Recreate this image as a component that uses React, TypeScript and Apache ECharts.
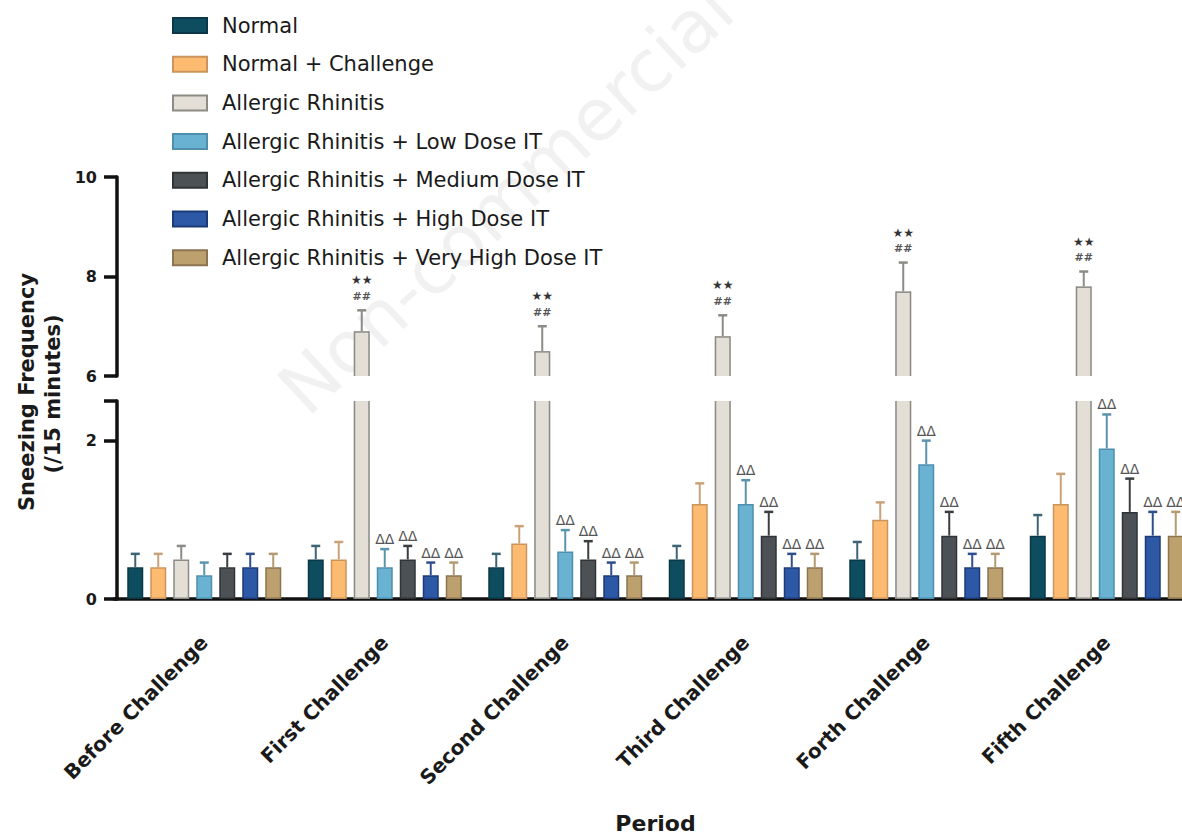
import React, { useEffect, useRef } from "react";
import * as echarts from "echarts";

const categories = [
  "Before Challenge",
  "First Challenge",
  "Second Challenge",
  "Third Challenge",
  "Forth Challenge",
  "Fifth Challenge",
];

const seriesNames = [
  "Normal",
  "Normal + Challenge",
  "Allergic Rhinitis",
  "Allergic Rhinitis + Low Dose IT",
  "Allergic Rhinitis + Medium Dose IT",
  "Allergic Rhinitis + High Dose IT",
  "Allergic Rhinitis + Very High Dose IT",
];

const normal = [0.4, 0.5, 0.4, 0.5, 0.5, 0.8];
const normalErr = [0.17, 0.17, 0.17, 0.17, 0.22, 0.26];
const normalChallenge = [0.4, 0.5, 0.7, 1.2, 1.0, 1.2];
const normalChallengeErr = [0.17, 0.22, 0.22, 0.26, 0.22, 0.38];
const allergic = [0.5, 6.9, 6.5, 6.8, 7.7, 7.8];
const allergicErr = [0.17, 0.42, 0.5, 0.42, 0.58, 0.3];
const lowDose = [0.3, 0.4, 0.6, 1.2, 1.7, 1.9];
const lowDoseErr = [0.16, 0.23, 0.27, 0.3, 0.3, 0.43];
const mediumDose = [0.4, 0.5, 0.5, 0.8, 0.8, 1.1];
const mediumDoseErr = [0.17, 0.17, 0.23, 0.3, 0.3, 0.42];
const highDose = [0.4, 0.3, 0.3, 0.4, 0.4, 0.8];
const highDoseErr = [0.17, 0.16, 0.16, 0.17, 0.17, 0.3];
const veryHighDose = [0.4, 0.3, 0.3, 0.4, 0.4, 0.8];
const veryHighDoseErr = [0.17, 0.16, 0.16, 0.17, 0.17, 0.3];

// significance marks
const starMarks = ["", "★★", "★★", "★★", "★★", "★★"];
const hashMarks = ["", "##", "##", "##", "##", "##"];
const deltaMarks = ["", "ΔΔ", "ΔΔ", "ΔΔ", "ΔΔ", "ΔΔ"];
const noMarks = ["", "", "", "", "", ""];

const values = [normal, normalChallenge, allergic, lowDose, mediumDose, highDose, veryHighDose];
const errors = [normalErr, normalChallengeErr, allergicErr, lowDoseErr, mediumDoseErr, highDoseErr, veryHighDoseErr];
const marks = [noMarks, noMarks, noMarks, deltaMarks, deltaMarks, deltaMarks, deltaMarks];

const lowerTicks = [0, 2, 2.5];
const lowerLabels = [0, 2];

const fills = ["#0e4d5f", "#fdbb72", "#e3dfd6", "#6ab2d2", "#4c5155", "#2c58a6", "#bca06e"];
const borders = ["#0a3846", "#c9955c", "#8d8b86", "#4e8fae", "#303437", "#1c3a78", "#8c7450"];
const errColors = ["#3e6474", "#c9a27a", "#8d8b86", "#5b93ad", "#3a3e41", "#2f4f8c", "#b39a70"];

const BAR_W = 16;
const BAR_GAP = 7;
const PITCH = BAR_W + BAR_GAP;
const BREAK_LOW = 2.5;
const BREAK_HIGH = 6;
const AR = 2;
const FONT = "DejaVu Sans";

export default function App() {
  const ref = useRef<HTMLDivElement>(null);

  useEffect(() => {
    if (!ref.current) return;
    const chart = echarts.init(ref.current, null, { renderer: "svg" });

    const makeErrRender = (si: number, isAR: boolean) =>
      (params: any, api: any) => {
        const cat = api.value(0);
        const v = api.value(1);
        const e = api.value(2);
        const base = api.coord([cat, v]);
        const top = api.coord([cat, v + e]);
        const x = base[0] + (si - 3) * PITCH;
        const col = errColors[si];
        const children: any[] = [
          { type: "line", shape: { x1: x, y1: base[1], x2: x, y2: top[1] }, style: { stroke: col, lineWidth: 2 } },
          { type: "line", shape: { x1: x - 4.5, y1: top[1], x2: x + 4.5, y2: top[1] }, style: { stroke: col, lineWidth: 2.5 } },
        ];
        if (isAR) {
          const hs = hashMarks[cat];
          const st = starMarks[cat];
          if (hs) children.push({ type: "text", style: { text: hs, x, y: top[1] - 14, align: "center", verticalAlign: "middle", fill: "#555", font: `bold 11px ${FONT}` } });
          if (st) children.push({ type: "text", style: { text: st, x, y: top[1] - 30, align: "center", verticalAlign: "middle", fill: "#333", font: `12px ${FONT}` } });
        } else {
          const m = marks[si][cat];
          if (m) children.push({ type: "text", style: { text: m, x, y: top[1] - 10, align: "center", verticalAlign: "middle", fill: "#555", font: `14px ${FONT}` } });
        }
        return { type: "group", children };
      };

    // open-ended outline for the broken Allergic Rhinitis bars
    const makeSideRender = (upper: boolean) => (params: any, api: any) => {
      const cat = api.value(0);
      const v = api.value(1);
      const lo = api.coord([cat, upper ? BREAK_HIGH : 0]);
      const hi = api.coord([cat, upper ? v : BREAK_LOW]);
      const cx = lo[0] + (AR - 3) * PITCH;
      const l = cx - BAR_W / 2 + 0.75;
      const r = cx + BAR_W / 2 - 0.75;
      const st = { stroke: borders[AR], lineWidth: 1.5 };
      const children: any[] = [
        { type: "line", shape: { x1: l, y1: lo[1], x2: l, y2: hi[1] }, style: st },
        { type: "line", shape: { x1: r, y1: lo[1], x2: r, y2: hi[1] }, style: st },
      ];
      if (upper) children.push({ type: "line", shape: { x1: l, y1: hi[1] + 0.75, x2: r, y2: hi[1] + 0.75 }, style: st });
      else children.push({ type: "line", shape: { x1: l, y1: lo[1] - 0.75, x2: r, y2: lo[1] - 0.75 }, style: st });
      return { type: "group", children };
    };

    const barGap = `${(BAR_GAP / BAR_W) * 100}%`;
    const series: any[] = [];
    // lower grid bars
    seriesNames.forEach((name, si) => {
      series.push({
        type: "bar",
        name,
        xAxisIndex: 0,
        yAxisIndex: 0,
        data: values[si].map((v) =>
          si === AR && v > BREAK_LOW ? { value: v, itemStyle: { borderWidth: 0 } } : v
        ),
        barWidth: BAR_W,
        barGap,
        itemStyle: { color: fills[si], borderColor: borders[si], borderWidth: 1.5 },
        clip: true,
        z: 2,
      });
    });
    // upper grid bars (only broken-axis values)
    seriesNames.forEach((name, si) => {
      series.push({
        type: "bar",
        name: si === AR ? name : `upper-${si}`,
        xAxisIndex: 1,
        yAxisIndex: 1,
        data: values[si].map((v) => (si === AR && v >= BREAK_HIGH ? v : null)),
        barWidth: BAR_W,
        barGap,
        itemStyle: { color: fills[si], borderWidth: 0 },
        clip: true,
        z: 2,
      });
    });
    const brokenAR = allergic.map((v, ci) => [ci, v]).filter((d) => d[1] >= BREAK_HIGH);
    series.push({ type: "custom", name: "ar-side-low", xAxisIndex: 0, yAxisIndex: 0, data: brokenAR, renderItem: makeSideRender(false), z: 3, silent: true });
    series.push({ type: "custom", name: "ar-side-up", xAxisIndex: 1, yAxisIndex: 1, data: brokenAR, renderItem: makeSideRender(true), z: 3, silent: true });

    // error bars
    seriesNames.forEach((name, si) => {
      const lowerData: any[] = [];
      const upperData: any[] = [];
      values[si].forEach((v, ci) => {
        if (v + errors[si][ci] <= BREAK_LOW) lowerData.push([ci, v, errors[si][ci]]);
        else if (v >= BREAK_HIGH) upperData.push([ci, v, errors[si][ci]]);
      });
      series.push({
        type: "custom",
        name: `err-low-${si}`,
        xAxisIndex: 0,
        yAxisIndex: 0,
        data: lowerData,
        renderItem: makeErrRender(si, false),
        z: 3,
        silent: true,
      });
      if (upperData.length) {
        series.push({
          type: "custom",
          name: `err-up-${si}`,
          xAxisIndex: 1,
          yAxisIndex: 1,
          data: upperData,
          renderItem: makeErrRender(si, true),
          z: 3,
          silent: true,
        });
      }
    });

    const axisLine = { show: true, lineStyle: { color: "#111", width: 3.5 } };
    const axisTick = { show: true, length: 13, lineStyle: { color: "#111", width: 3.5 } };
    const tickLabel = { color: "#1a1a1a", fontFamily: FONT, fontWeight: "bold" as const, fontSize: 16, margin: 20 };

    const option: any = {
      animation: false,
      backgroundColor: "#fff",
      legend: {
        data: seriesNames,
        orient: "vertical",
        left: 167,
        top: 10,
        itemWidth: 34,
        itemHeight: 15,
        itemGap: 17.7,
        icon: "rect",
        selectedMode: false,
        textStyle: { fontFamily: FONT, fontSize: 21, lineHeight: 21, color: "#1a1a1a", padding: [0, 0, 0, 10] },
      },
      graphic: [
        {
          type: "text",
          z: -10,
          silent: true,
          x: 506,
          y: 199,
          rotation: (43 * Math.PI) / 180,
          style: { text: "Non-commercial", font: `72px ${FONT}`, fill: "#f1f1f1", align: "center", verticalAlign: "middle" },
        },
        {
          type: "text",
          x: 27,
          y: 392,
          rotation: Math.PI / 2,
          style: { text: "Sneezing Frequency", font: `bold 21px ${FONT}`, fill: "#1a1a1a", align: "center", verticalAlign: "middle" },
        },
        {
          type: "text",
          x: 53,
          y: 394,
          rotation: Math.PI / 2,
          style: { text: "(/15 minutes)", font: `bold 21px ${FONT}`, fill: "#1a1a1a", align: "center", verticalAlign: "middle" },
        },
      ],
      grid: [
        { left: 114, width: 1083, top: 401, height: 209 },
        { left: 114, width: 1083, top: 177, height: 199 },
      ],
      xAxis: [
        {
          type: "category",
          gridIndex: 0,
          data: categories,
          axisLine: { show: true, lineStyle: { color: "#111", width: 3.5 } },
          axisTick: { show: false },
          axisLabel: { rotate: 45, interval: 0, margin: 40, color: "#1a1a1a", fontFamily: FONT, fontWeight: "bold", fontSize: 20 },
          name: "Period",
          nameLocation: "middle",
          nameGap: 213,
          nameTextStyle: { color: "#1a1a1a", fontFamily: FONT, fontWeight: "bold", fontSize: 22 },
        },
        {
          type: "category",
          gridIndex: 1,
          data: categories,
          show: false,
        },
      ],
      yAxis: [
        {
          type: "value",
          gridIndex: 0,
          min: 0,
          max: BREAK_LOW,
          offset: -3,
          axisLine,
          axisTick: { ...axisTick, customValues: lowerTicks },
          axisLabel: { ...tickLabel, customValues: lowerLabels },
          splitLine: { show: false },
        },
        {
          type: "value",
          gridIndex: 1,
          min: BREAK_HIGH,
          max: 10,
          interval: 2,
          offset: -3,
          axisLine,
          axisTick,
          axisLabel: tickLabel,
          splitLine: { show: false },
        },
      ],
      series,
    };

    chart.setOption(option);
    return () => chart.dispose();
  }, []);

  return (
    <div style={{ position: "fixed", left: 0, top: 0, width: "100vw", height: "100vh", overflow: "hidden", background: "#fff" }}>
      <div ref={ref} style={{ width: 1210, height: 835 }} />
    </div>
  );
}
